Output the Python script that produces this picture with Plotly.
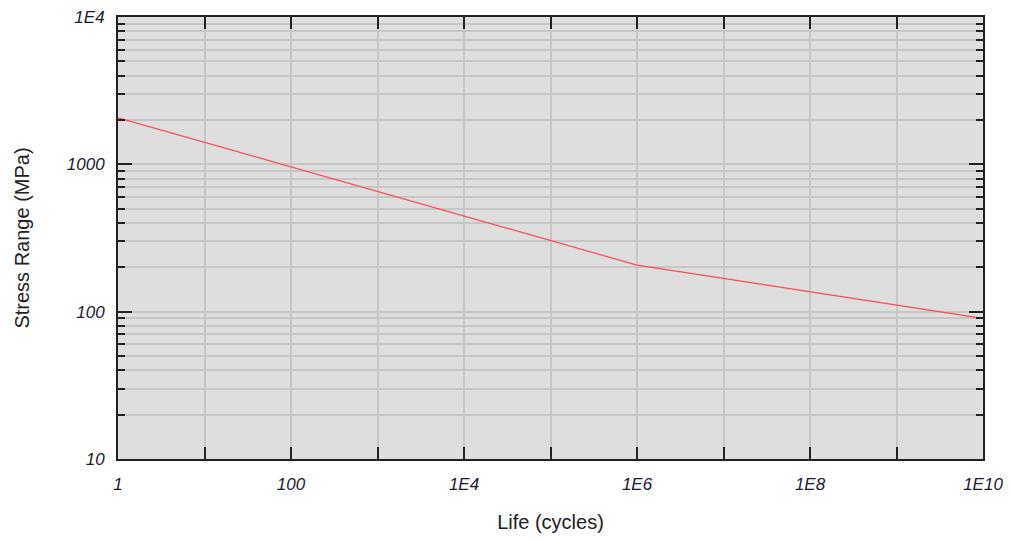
import plotly.graph_objects as go

life = [1, 1e6, 1e10]
stress = [2070, 207, 90]

x_major = [10**k for k in range(0, 11)]
x_text = ["1", "", "100", "", "1E4", "", "1E6", "", "1E8", "", "1E10"]
y_major = [10, 100, 1000, 10000]
y_text = ["10", "100", "1000", "1E4"]
y_minor = [m * 10**k for k in range(1, 4) for m in range(2, 10)]

fig = go.Figure()
fig.add_trace(go.Scatter(x=life, y=stress, mode="lines",
                         line=dict(color="#ff4a4a", width=1.2), showlegend=False))

tickfont = dict(family="Liberation Sans, Arial, sans-serif", size=17,
                color="#1a1a33", style="italic")
titlefont = dict(family="Liberation Sans, Arial, sans-serif", size=20, color="#222222")

fig.update_xaxes(type="log", range=[0, 10], tickmode="array", tickvals=x_major,
                 ticktext=x_text, ticks="inside", ticklen=12, tickwidth=1.5,
                 tickcolor="#222", showline=True, linecolor="#222", linewidth=2,
                 mirror="ticks", showgrid=True, gridcolor="#c6c6c6", gridwidth=1.5,
                 zeroline=False, tickfont=tickfont, ticklabelstandoff=9,
                 ticklabeloverflow="allow",
                 title=dict(text="Life (cycles)", font=titlefont, standoff=22))
fig.update_yaxes(type="log", range=[1, 4], tickmode="array", tickvals=y_major,
                 ticktext=y_text, ticks="inside", ticklen=14, tickwidth=1.5,
                 tickcolor="#222", showline=True, linecolor="#222", linewidth=2,
                 mirror="ticks", showgrid=True, gridcolor="#c6c6c6", gridwidth=1.5,
                 zeroline=False, tickfont=tickfont, ticklabelstandoff=8,
                 ticklabeloverflow="allow",
                 minor=dict(tickmode="array", tickvals=y_minor, ticks="inside",
                            ticklen=7, tickwidth=1.5, tickcolor="#222",
                            showgrid=True, gridcolor="#c6c6c6", gridwidth=1.5),
                 title=dict(text="Stress Range (MPa)", font=titlefont, standoff=32))

fig.update_layout(width=995, height=526, plot_bgcolor="#dedede",
                  paper_bgcolor="white",
                  margin=dict(l=110, r=20, t=9, b=75, autoexpand=False))

fig.write_html("out.html")
